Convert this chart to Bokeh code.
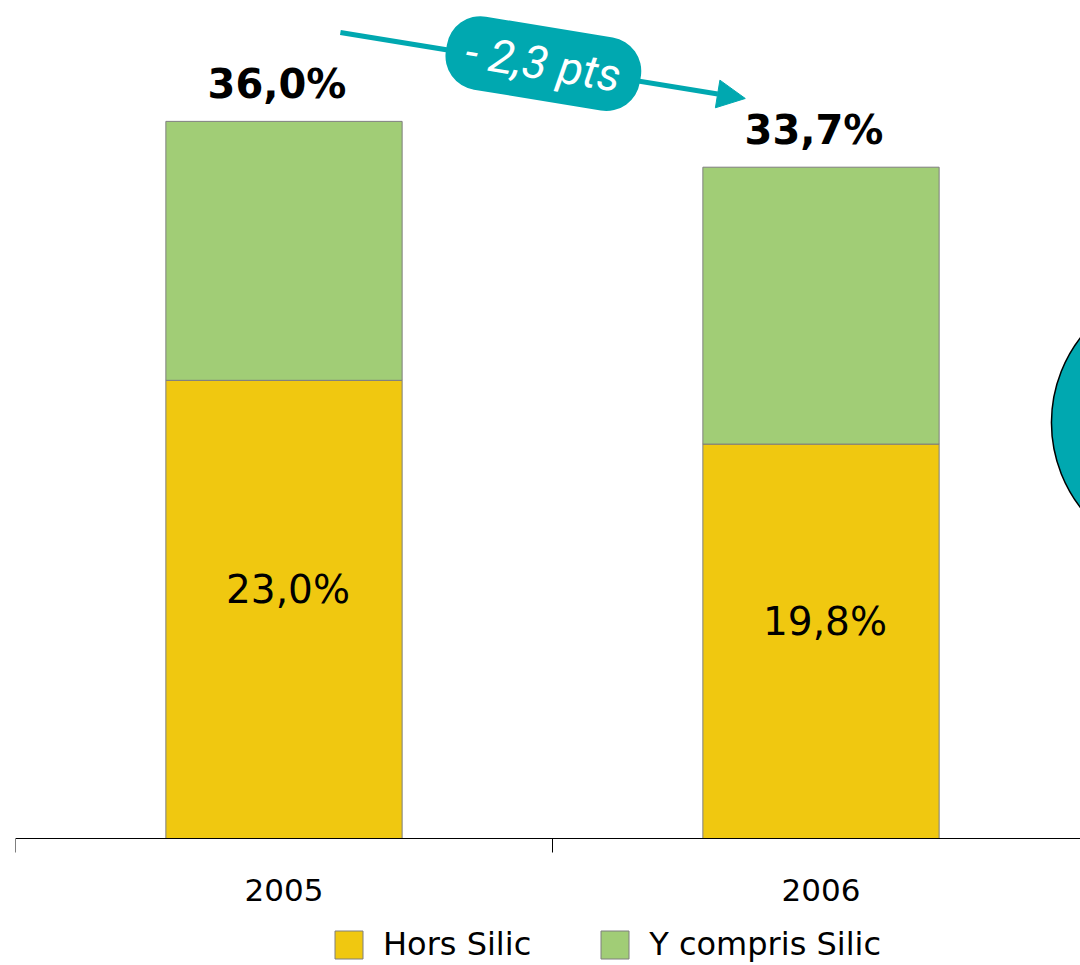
from bokeh.plotting import figure
from bokeh.models import (Range1d, FixedTicker, Legend, LegendItem, Label, Arrow, NormalHead)
from bokeh.core.properties import value
from bokeh.embed import file_html
from bokeh.resources import INLINE

# ---- data ----
years = ["2005", "2006"]
hors_silic = [23.0, 19.8]
y_compris_silic = [36.0, 33.7]      # totals (top of stacks)
series_names = ["Hors Silic", "Y compris Silic"]

# ---- styles ----
YELLOW = "#F0C810"
GREEN = "#A1CD76"
TEAL = "#00A8B0"
EDGE = "#7F7F7F"
FONT = "DejaVu Sans"

PX_PER_CAT = 537.0
PX_PER_PT = 19.92

def fmt(v):
    return f"{v:.1f}".replace(".", ",") + "%"

delta = y_compris_silic[1] - y_compris_silic[0]
delta_label = "- " + f"{abs(delta):.1f}".replace(".", ",") + " pts"

xc = [i + 0.5 for i in range(len(years))]
green_bottom = hors_silic
green_top = y_compris_silic

p = figure(width=1080, height=965, output_backend="svg", toolbar_location=None,
           x_range=Range1d(0, 1065 / PX_PER_CAT),
           y_range=Range1d(-127 / PX_PER_PT, 838 / PX_PER_PT),
           min_border_left=15, min_border_right=0, min_border_top=0, min_border_bottom=0)
p.outline_line_color = None
p.xgrid.visible = False
p.ygrid.visible = False
p.yaxis.visible = False
p.background_fill_color = "white"
p.border_fill_color = "white"

r1 = p.vbar(x=xc, width=0.44, bottom=0, top=hors_silic,
            fill_color=YELLOW, line_color=EDGE, line_width=1)
r2 = p.vbar(x=xc, width=0.44, bottom=green_bottom, top=green_top,
            fill_color=GREEN, line_color=EDGE, line_width=1)

# total labels
p.text(x=xc, y=y_compris_silic, text=[fmt(v) for v in y_compris_silic],
       text_font=value(FONT), text_font_style="bold", text_font_size="40px",
       text_align="center", text_baseline="middle", x_offset=-7, y_offset=-37,
       text_color="black")
# inner labels
p.text(x=xc, y=[h / 2 for h in hors_silic], text=[fmt(v) for v in hors_silic],
       text_font=value(FONT), text_font_size="39px",
       text_align="center", text_baseline="middle", x_offset=4, y_offset=-20,
       text_color="black")

# decorative circle at right edge (next panel)
p.scatter(x=[2.188], y=[20.88], size=278, marker="circle",
          fill_color=TEAL, line_color="black", line_width=1.5)

# arrow + pill
arrow = Arrow(x_start=0.605, y_start=40.46, x_end=1.359, y_end=37.15,
              line_color=TEAL, line_width=5,
              end=NormalHead(size=28, fill_color=TEAL, line_color=TEAL, line_width=1))
p.add_layout(arrow)
pill = Label(x=0.983, y=38.9, text=delta_label, angle=-0.163,
             text_align="center", text_baseline="middle",
             text_color="white", text_font="Roboto", text_font_style="italic",
             text_font_size="46px",
             background_fill_color=TEAL, border_radius=34, padding=(20, 10))
p.add_layout(pill)

# x axis at y = 0: category boundaries as ticks, labels centred
ax = p.xaxis[0]
ax.fixed_location = 0
ax.ticker = FixedTicker(ticks=xc, minor_ticks=[0, 1, 2])
ax.major_label_overrides = {x: y for x, y in zip(xc, years)}
ax.major_tick_out = 0
ax.major_tick_in = 0
ax.minor_tick_out = 14
ax.minor_tick_in = 0
ax.minor_tick_line_color = "black"
ax.axis_line_color = "black"
ax.axis_line_width = 1
ax.major_label_standoff = 26
ax.major_label_text_font = FONT
ax.major_label_text_font_size = "31px"
ax.major_label_text_color = "black"

legend = Legend(items=[LegendItem(label=series_names[0], renderers=[r1]),
                       LegendItem(label=series_names[1], renderers=[r2])],
                orientation="horizontal", location=(316, 2),
                glyph_width=35, glyph_height=35, label_standoff=17, spacing=66,
                label_text_font=FONT, label_text_font_size="32px",
                label_text_color="black",
                border_line_color=None, background_fill_alpha=0,
                padding=0, margin=0)
p.add_layout(legend)

open("out.html", "w").write(file_html(p, INLINE))
